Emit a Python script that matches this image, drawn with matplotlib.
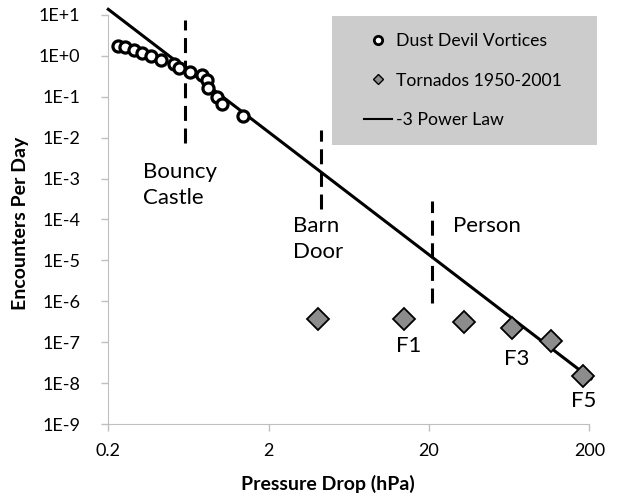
import numpy as np
import matplotlib
matplotlib.use("Agg")
import matplotlib.pyplot as plt
from matplotlib.lines import Line2D
from matplotlib.patches import Rectangle
from matplotlib.ticker import FixedLocator, FuncFormatter, NullLocator

plt.rcParams['font.family'] = ['Lato', 'DejaVu Sans']

# dust devil vortices (pressure drop hPa, encounters per day)
dd_x = [0.231, 0.254, 0.290, 0.323, 0.368, 0.426, 0.514, 0.555, 0.647,
        0.765, 0.829, 0.841, 0.957, 1.02, 1.39]
dd_y = [1.78, 1.62, 1.39, 1.20, 1.01, 0.794, 0.634, 0.498, 0.411,
        0.341, 0.258, 0.161, 0.0973, 0.0667, 0.0340]

# tornados 1950-2001 (F0..F5)
tor_x = [4.08, 14.0, 33.1, 65.7, 115, 182]
tor_y = [3.7e-7, 3.7e-7, 3.17e-7, 2.19e-7, 1.09e-7, 1.49e-8]

# -3 power law
law_a = 0.11
law_x = np.array([0.2, 205])

# reference objects: x, ymin, ymax
ref_x = [0.60, 4.23, 20.8]
ref_ymin = [7.4e-3, 1.8e-4, 9.1e-7]
ref_ymax = [7.5, 1.55e-2, 2.9e-4]

xticks = [0.2, 2, 20, 200]

fig = plt.figure(figsize=(6.18, 4.99), dpi=100)
ax = fig.add_axes([0.1752, 0.1503, 0.7784, 0.8197])
ax.set_xscale('log')
ax.set_yscale('log')
ax.set_xlim(0.2, 200)
ax.set_ylim(1e-9, 10)

ax.vlines(ref_x, ref_ymin, ref_ymax, colors='black', linewidth=2.2,
          linestyles=(0, (4.9, 2.5)), zorder=2)

ax.plot(law_x, law_a * law_x ** -3.0, color='black', lw=2.2, zorder=3,
        clip_on=False)
ax.plot(dd_x, dd_y, 'o', ms=8, mfc='white', mec='black', mew=2.3, zorder=4)
ax.plot(tor_x, tor_y, 'D', ms=11, mfc='#8c8c8c', mec='black', mew=1.3,
        zorder=4, clip_on=False)

fs = 16
ax.text(0.329, 2.6e-3, 'Bouncy\nCastle', fontsize=fs, va='top', ha='left',
        linespacing=1.38)
ax.text(2.85, 1.2e-4, 'Barn\nDoor', fontsize=fs, va='top', ha='left',
        linespacing=1.38)
ax.text(28.3, 1.25e-4, 'Person', fontsize=fs, va='top', ha='left')
ax.text(12.5, 1.4e-7, 'F1', fontsize=fs, va='top', ha='left')
ax.text(58.8, 6.8e-8, 'F3', fontsize=fs, va='top', ha='left')
ax.text(153, 6.4e-9, 'F5', fontsize=fs, va='top', ha='left')

ax.xaxis.set_major_locator(FixedLocator(xticks))
ax.xaxis.set_minor_locator(NullLocator())
ax.xaxis.set_major_formatter(FuncFormatter(lambda v, p: f'{v:g}'))
ax.yaxis.set_major_locator(FixedLocator([10.0 ** k for k in range(-9, 2)]))
ax.yaxis.set_minor_locator(NullLocator())
ax.yaxis.set_major_formatter(
    FuncFormatter(lambda v, p: '1E%+d' % int(round(np.log10(v)))))

for s in ['top', 'right']:
    ax.spines[s].set_visible(False)
for s in ['left', 'bottom']:
    ax.spines[s].set_color('#bfbfbf')
ax.tick_params(which='major', length=5, width=1, color='#bfbfbf',
               labelsize=13)
ax.tick_params(axis='x', pad=9)
ax.tick_params(axis='y', pad=15)

fig.text(0.5305, 0.012, 'Pressure Drop (hPa)', fontsize=14, fontweight='bold',
         ha='center', va='bottom')
fig.text(0.033, 1 - 223 / 499, 'Encounters Per Day', fontsize=14,
         fontweight='bold', rotation=90, ha='center', va='center')

# legend box
fig.patches.append(Rectangle((331.7 / 618, 1 - 145 / 499), 265 / 618, 129 / 499,
                             transform=fig.transFigure, facecolor='#cccccc',
                             edgecolor='none', zorder=1))
handles = [
    Line2D([], [], ls='none', marker='o', ms=6, mfc='white', mec='black', mew=2),
    Line2D([], [], ls='none', marker='D', ms=5.5, mfc='#8c8c8c', mec='black', mew=1),
    Line2D([], [], color='black', lw=1.5),
]
labels = ['Dust Devil Vortices', 'Tornados 1950-2001', '-3 Power Law']
fig.legend(handles, labels, loc='center', frameon=False, fontsize=12.7,
           bbox_to_anchor=((331.7 + 131) / 618, 1 - 80.5 / 499),
           labelspacing=1.35, handlelength=1.6, handletextpad=0.2)

fig.savefig('out.png', dpi=100)
